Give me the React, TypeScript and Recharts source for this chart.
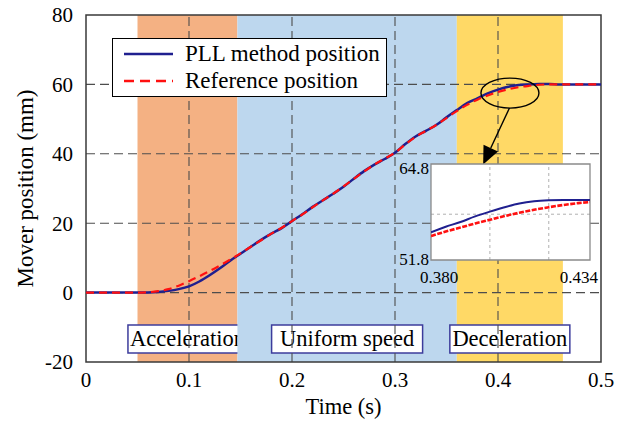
import React from "react";
import {
  ComposedChart,
  LineChart,
  Line,
  XAxis,
  YAxis,
  ReferenceArea,
  ReferenceLine,
  ReferenceDot,
  Legend,
} from "recharts";

// main chart data
const time = [
  0, 0.02, 0.04, 0.05, 0.06, 0.07, 0.08, 0.09, 0.1, 0.11, 0.12, 0.13, 0.14, 0.15, 0.16, 0.17,
  0.18, 0.19, 0.2, 0.21, 0.22, 0.23, 0.24, 0.25, 0.26, 0.27, 0.28, 0.29, 0.3, 0.31, 0.32, 0.33,
  0.34, 0.35, 0.36, 0.37, 0.38, 0.39, 0.4, 0.41, 0.42, 0.43, 0.44, 0.45, 0.46, 0.47, 0.48, 0.49, 0.5,
];
const pllPosition = [
  0, 0, 0, 0, 0.05, 0.2, 0.5, 1.0, 1.8, 3.2, 5.0, 7.0, 9.2, 11.2, 13.2, 15.2,
  17.0, 18.6, 20.6, 22.6, 24.7, 26.6, 28.5, 30.5, 32.8, 35.0, 36.9, 38.5, 40.3, 42.8, 45.0, 46.6,
  48.3, 50.5, 52.6, 54.6, 56.0, 57.4, 58.5, 59.3, 59.8, 60.0, 60.1, 60.1, 60.0, 60.0, 60.0, 60.0, 60.0,
];
const refPosition = [
  0, 0, 0, 0, 0.1, 0.4, 1.0, 2.0, 3.3, 4.7, 6.2, 7.8, 9.5, 11.3, 13.2, 15.1,
  17.0, 18.7, 20.6, 22.5, 24.6, 26.6, 28.5, 30.6, 32.8, 34.9, 36.9, 38.6, 40.3, 42.7, 44.9, 46.6,
  48.3, 50.3, 52.3, 54.1, 55.6, 56.8, 57.8, 58.6, 59.2, 59.6, 59.9, 60.0, 60.0, 60.0, 60.0, 60.0, 60.0,
];

const xTicks = [0, 0.1, 0.2, 0.3, 0.4, 0.5];
const yTicks = [-20, 0, 20, 40, 60, 80];
const xGrid = [0.1, 0.2, 0.3, 0.4];
const yGrid = [0, 20, 40, 60];

const phaseNames = ["Acceleration", "Uniform speed", "Deceleration"];
const phaseStart = [0.05, 0.147, 0.36];
const phaseEnd = [0.147, 0.36, 0.463];

// zoomed inset data
const zoomTime = [0.38, 0.385, 0.39, 0.395, 0.4, 0.405, 0.41, 0.415, 0.42, 0.425, 0.43, 0.434];
const zoomPll = [55.55, 56.3, 56.95, 57.7, 58.35, 58.95, 59.45, 59.75, 59.88, 59.92, 59.92, 59.92];
const zoomRef = [55.05, 55.65, 56.2, 56.75, 57.25, 57.75, 58.2, 58.6, 58.95, 59.25, 59.5, 59.65];
const zoomXTicks = [0.38, 0.434];
const zoomYTicks = [51.8, 64.8];
const zoomGridX = [0.4, 0.42];
const zoomGridY = [58];

// highlighted region (ellipse centre)
const focusTime = 0.4116;
const focusPos = 57.5;

const data = time.map((t, i) => ({ t, pll: pllPosition[i], ref: refPosition[i] }));
const zoomData = zoomTime.map((t, i) => ({ t, pll: zoomPll[i], ref: zoomRef[i] }));

const FONT = "Liberation Serif, Times New Roman, serif";
const serif = (size: number) => ({ fontFamily: FONT, fontSize: size });
const BLUE = "#1f1f8f";
const RED = "#ff1010";
const phaseColors = ["#F4B183", "#BDD7EE", "#FFD966"];
const phaseBoxW = [119, 151, 120];

function PhaseLabel({ viewBox, text, w }: { viewBox?: any; text: string; w: number }) {
  if (!viewBox) return null;
  const cx = viewBox.x + viewBox.width / 2;
  const bottom = viewBox.y + viewBox.height - 9;
  return (
    <g>
      <rect x={cx - w / 2} y={bottom - 28} width={w} height={28} fill="#fff" stroke="#3c3c9c" strokeWidth={1.5} />
      <text x={cx} y={bottom - 7.5} textAnchor="middle" style={serif(22.5)} fill="#000">
        {text}
      </text>
    </g>
  );
}

function Callout({ cx, cy }: { cx?: number; cy?: number }) {
  if (cx == null || cy == null) return null;
  const sx = cx - 0.5;
  const sy = cy + 15;
  const tx = cx - 26.8;
  const ty = cy + 71.3;
  const dx = tx - sx;
  const dy = ty - sy;
  const len = Math.hypot(dx, dy);
  const ux = dx / len;
  const uy = dy / len;
  const bx = tx - 18 * ux;
  const by = ty - 18 * uy;
  const px = -uy;
  const py = ux;
  return (
    <g>
      <ellipse cx={cx} cy={cy} rx={29} ry={15} fill="none" stroke="#000" strokeWidth={1.4} />
      <line x1={sx} y1={sy} x2={bx} y2={by} stroke="#000" strokeWidth={1.4} />
      <polygon
        points={`${tx},${ty} ${bx + 8 * px},${by + 8 * py} ${bx - 8 * px},${by - 8 * py}`}
        fill="#000"
      />
    </g>
  );
}

function LegendBox() {
  const row = (dash: string | undefined, color: string, label: string) => (
    <div style={{ display: "flex", alignItems: "center", height: 27 }}>
      <svg width={62} height={10} style={{ marginLeft: 10 }}>
        <line x1={1} y1={5} x2={50} y2={5} stroke={color} strokeWidth={2.5} strokeDasharray={dash} />
      </svg>
      <span style={{ ...serif(23), color: "#000", lineHeight: "27px" }}>{label}</span>
    </div>
  );
  return (
    <div
      style={{
        width: 273,
        height: 56,
        border: "1px solid #000",
        background: "#fff",
        boxSizing: "content-box",
        paddingTop: 1,
      }}
    >
      {row(undefined, BLUE, "PLL method position")}
      {row("10 6", RED, "Reference position")}
    </div>
  );
}

function MainXTick({ x, y, payload }: any) {
  return (
    <text x={x} y={y} dy="0.71em" textAnchor="middle" style={serif(21)} fill="#000">
      {payload.value}
    </text>
  );
}

function MainYTick({ x, y, payload }: any) {
  return (
    <text x={x} y={y} dy="0.35em" textAnchor="end" style={serif(21)} fill="#000">
      {payload.value}
    </text>
  );
}

function ZoomXTick({ x, y, payload, index }: any) {
  const first = index === 0;
  return (
    <text x={first ? x - 11 : x + 8} y={y + 21} textAnchor={first ? "start" : "end"} style={serif(17)} fill="#000">
      {payload.value.toFixed(3)}
    </text>
  );
}

function ZoomYTick({ x, y, payload, index }: any) {
  return (
    <text x={x} y={y + (index === 0 ? -1 : 4)} dy="0.35em" textAnchor="end" style={serif(17)} fill="#000">
      {payload.value.toFixed(1)}
    </text>
  );
}

export default function App() {
  return (
    <div style={{ position: "absolute", left: 0, top: 0, width: 629, height: 423, background: "#fff" }}>
      <ComposedChart width={629} height={423} data={data} margin={{ top: 15, right: 28, bottom: 0, left: 0 }}>
        <XAxis
          dataKey="t"
          type="number"
          domain={[0, 0.5]}
          ticks={xTicks}
          height={61}
          tickSize={0}
          tickMargin={10}
          axisLine={false}
          tick={<MainXTick />}
          label={{
            content: () => (
              <text x={343.5} y={414} textAnchor="middle" style={serif(22.5)} fill="#000">
                Time (s)
              </text>
            ),
          }}
        />
        <YAxis
          type="number"
          domain={[-20, 80]}
          ticks={yTicks}
          width={86}
          tickSize={0}
          tickMargin={13}
          axisLine={false}
          tick={<MainYTick />}
          label={{
            content: () => (
              <text
                x={25}
                y={188.5}
                transform="rotate(-90 25 188.5)"
                textAnchor="middle"
                dominantBaseline="central"
                style={serif(23)}
                fill="#000"
              >
                Mover position (mm)
              </text>
            ),
          }}
        />
        {phaseNames.map((name, i) => (
          <ReferenceArea
            key={name}
            x1={phaseStart[i]}
            x2={phaseEnd[i]}
            y1={-20}
            y2={80}
            fill={phaseColors[i]}
            fillOpacity={1}
            stroke="none"
            zIndex={100}
            label={(p: any) => <PhaseLabel viewBox={p.viewBox} text={name} w={phaseBoxW[i]} />}
          />
        ))}
        {xGrid.map((v) => (
          <ReferenceLine key={"gx" + v} x={v} stroke="#4d4d4d" strokeWidth={1.1} strokeDasharray="9 5" zIndex={150} />
        ))}
        {yGrid.map((v) => (
          <ReferenceLine key={"gy" + v} y={v} stroke="#4d4d4d" strokeWidth={1.1} strokeDasharray="9 5" zIndex={150} />
        ))}
        <ReferenceArea
          x1={0}
          x2={0.5}
          y1={-20}
          y2={80}
          fill="none"
          stroke="#3a3a3a"
          strokeWidth={1.5}
          zIndex={160}
        />
        <Line
          dataKey="pll"
          type="monotone"
          stroke={BLUE}
          strokeWidth={2.5}
          dot={false}
          isAnimationActive={false}
        />
        <Line
          dataKey="ref"
          type="monotone"
          stroke={RED}
          strokeWidth={2.2}
          strokeDasharray="8 5"
          dot={false}
          isAnimationActive={false}
        />
        <ReferenceDot x={focusTime} y={focusPos} r={0} shape={(p: any) => <Callout cx={p.cx} cy={p.cy} />} />
        <Legend
          layout="vertical"
          align="center"
          verticalAlign="middle"
          wrapperStyle={{ left: 112, top: 38, width: 275, height: 58 }}
          content={() => <LegendBox />}
        />
      </ComposedChart>

      <div style={{ position: "absolute", left: 380, top: 150 }}>
        <LineChart width={230} height={140} data={zoomData} margin={{ top: 14, right: 20, bottom: 0, left: 0 }}>
          <XAxis
            dataKey="t"
            type="number"
            domain={[0.38, 0.434]}
            allowDataOverflow
            ticks={zoomXTicks}
            height={30}
            tickSize={0}
            axisLine={false}
            tick={<ZoomXTick />}
          />
          <YAxis
            type="number"
            domain={[51.8, 64.8]}
            allowDataOverflow
            ticks={zoomYTicks}
            width={51}
            tickSize={0}
            tickMargin={2}
            axisLine={false}
            tick={<ZoomYTick />}
          />
          <ReferenceArea x1={0.38} x2={0.434} y1={51.8} y2={64.8} fill="#fff" fillOpacity={1} stroke="none" zIndex={100} />
          {zoomGridX.map((v) => (
            <ReferenceLine key={"zx" + v} x={v} stroke="#b0b0b0" strokeDasharray="3 3" zIndex={150} />
          ))}
          {zoomGridY.map((v) => (
            <ReferenceLine key={"zy" + v} y={v} stroke="#b0b0b0" strokeDasharray="3 3" zIndex={150} />
          ))}
          <ReferenceArea
            x1={0.38}
            x2={0.434}
            y1={51.8}
            y2={64.8}
            fill="none"
            stroke="#8a8a8a"
            strokeWidth={1.3}
            zIndex={160}
          />
          <Line dataKey="pll" type="monotone" stroke={BLUE} strokeWidth={2} dot={false} isAnimationActive={false} />
          <Line
            dataKey="ref"
            type="monotone"
            stroke={RED}
            strokeWidth={2.6}
            strokeDasharray="5 1.5"
            dot={false}
            isAnimationActive={false}
          />
        </LineChart>
      </div>
    </div>
  );
}
